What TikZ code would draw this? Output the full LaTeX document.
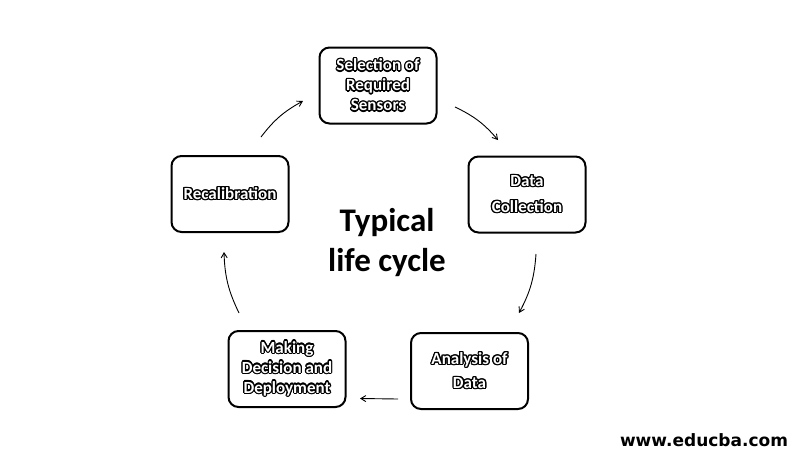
\documentclass[tikz,border=0pt]{standalone}
\usepackage{fontspec}
\setmainfont{Carlito}
\newfontfamily\webfont{DejaVu Sans}
\usepackage{contour}
\contourlength{1.2pt}
\usetikzlibrary{arrows.meta}
\newcommand{\wt}[1]{\contour{black}{\textcolor{white}{#1}}}
\begin{document}
\begin{tikzpicture}[x=1pt,y=-1pt,
  stage/.style={draw=black, line width=2pt, rounded corners=10pt, minimum width=117pt, minimum height=76pt, inner sep=0pt, align=center, font=\bfseries\fontsize{17}{20}\selectfont},
  flow/.style={-{Straight Barb[length=5pt,width=6pt]}, line width=0.9pt}]
\useasboundingbox (0,0) rectangle (809,459);
\node[stage] (sel) at (378,85.5) {\wt{Selection of}\\\wt{Required}\\\wt{Sensors}};
\node[stage] (dc) at (527,194.5) {\wt{Data}\\[6pt]\wt{Collection}};
\node[stage] (an) at (469.5,371) {\wt{Analysis of}\\[4pt]\wt{Data}};
\node[stage] (mk) at (287,369) {\wt{Making}\\\wt{Decision and}\\\wt{Deployment}};
\node[stage] (rc) at (230,194) {\wt{Recalibration}};
\node[font=\bfseries\fontsize{33}{40}\selectfont, align=center] (title) at (387,243) {Typical\\life cycle};
\node[font=\webfont\bfseries\fontsize{17}{19}\selectfont] (web) at (704,440) {www.educba.com};
\coordinate (a1s) at (455,107); \coordinate (a1e) at (498,140);
\coordinate (a2s) at (536,254); \coordinate (a2e) at (519,313);
\coordinate (a3s) at (398,399); \coordinate (a3e) at (360,398.5);
\coordinate (a4s) at (239,313); \coordinate (a4e) at (224,252);
\coordinate (a5s) at (261,137); \coordinate (a5e) at (303,101);
\draw[flow] (a1s) to[bend left=12] (a1e);
\draw[flow] (a2s) to[bend left=12] (a2e);
\draw[flow] (a3s) -- (a3e);
\draw[flow] (a4s) to[bend left=12] (a4e);
\draw[flow] (a5s) to[bend left=12] (a5e);
\end{tikzpicture}
\end{document}
